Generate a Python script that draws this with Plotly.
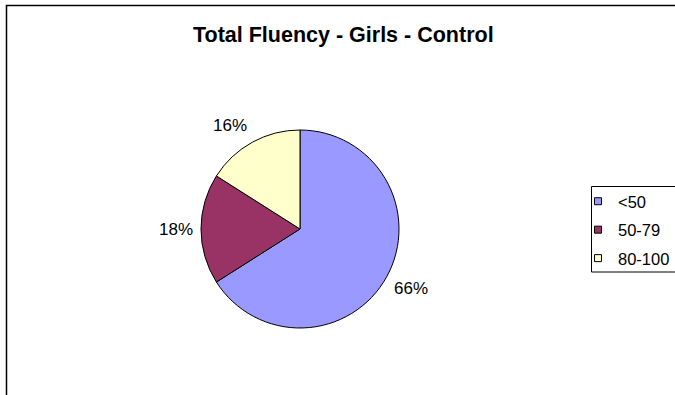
import math
import plotly.graph_objects as go

W, H = 675, 395
labels = ["<50", "50-79", "80-100"]
values = [66, 18, 16]
colors = ["#9999FF", "#993366", "#FFFFCC"]
title = "Total Fluency - Girls - Control"

FONT = "Liberation Sans, Arial, sans-serif"

def px(x):
    return x / W

def py(y):
    return 1 - y / H

# pie geometry (pixels)
CX, CY, R = 300, 229, 99

fig = go.Figure()
fig.add_trace(go.Pie(
    labels=labels,
    values=values,
    sort=False,
    direction="clockwise",
    rotation=0,
    marker=dict(colors=colors, line=dict(color="black", width=1)),
    textinfo="none",
    domain=dict(x=[px(CX - R), px(CX + R)], y=[py(CY + R), py(CY - R)]),
    hoverinfo="label+percent",
    showlegend=False,
))

# legend entries (one group per category for spacing)
for lab, col in zip(labels, colors):
    fig.add_trace(go.Scatter(
        x=[None], y=[None], mode="markers", name=lab, legendgroup=lab,
        marker=dict(symbol="square", size=7, color=col,
                    line=dict(color="black", width=1)),
        hoverinfo="skip",
    ))

# percentage labels placed outside each slice, from the data
total = sum(values)
annotations = []
cum = 0
for v in values:
    mid = (cum + v / 2) / total * 2 * math.pi
    cum += v
    s, c = math.sin(mid), math.cos(mid)
    d = R + 6
    ax, ay = CX + d * s, CY - d * c
    xanchor = "right" if s < -0.3 else ("left" if s > 0.3 else "center")
    yanchor = "bottom" if c > 0.3 else ("top" if c < -0.3 else "middle")
    annotations.append(dict(
        x=px(ax), y=py(ay), xref="paper", yref="paper",
        text=f"{round(100 * v / total)}%", showarrow=False,
        xanchor=xanchor, yanchor=yanchor,
        yshift=3 if yanchor == "top" else 0,
        font=dict(family=FONT, size=17, color="black"),
    ))

fig.update_layout(
    width=W, height=H,
    margin=dict(l=0, r=0, t=0, b=0),
    paper_bgcolor="white",
    plot_bgcolor="white",
    xaxis=dict(visible=False),
    yaxis=dict(visible=False),
    font=dict(family=FONT, size=16, color="black"),
    title=dict(text="<b>" + title + "</b>", x=px(193), xanchor="left",
               y=py(34), yanchor="middle",
               font=dict(family=FONT, size=21.5, color="black")),
    showlegend=True,
    legend=dict(x=1, y=py(184), xanchor="right", yanchor="top",
                borderwidth=0, bgcolor="rgba(0,0,0,0)",
                font=dict(family=FONT, size=16.5, color="black"),
                traceorder="grouped", tracegroupgap=4),
    annotations=annotations,
    shapes=[
        dict(type="rect", xref="paper", yref="paper",
             x0=px(6.5), x1=1.05, y0=-0.05, y1=py(5.5),
             line=dict(color="black", width=1.5), fillcolor="rgba(0,0,0,0)",
             layer="below"),
        dict(type="rect", xref="paper", yref="paper",
             x0=px(591.5), x1=1.05, y0=py(272), y1=py(186.5),
             line=dict(color="black", width=1), fillcolor="rgba(0,0,0,0)",
             layer="below"),
    ],
)

fig.write_html("out.html")
